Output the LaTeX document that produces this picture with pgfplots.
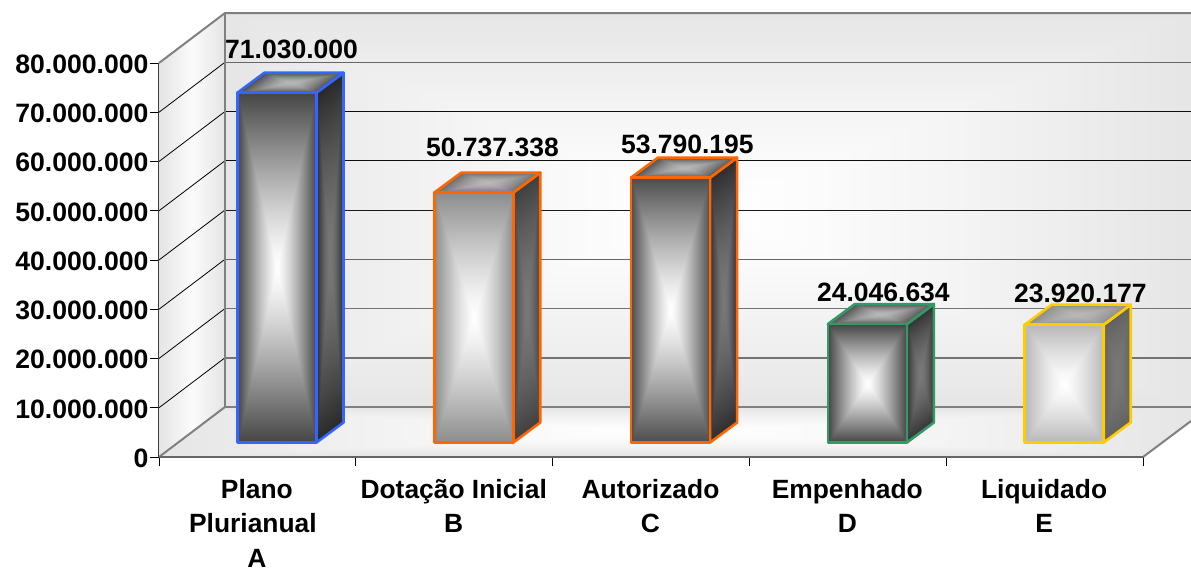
\documentclass[border=0pt]{standalone}
\usepackage{fontspec}
\setmainfont{Liberation Sans}
\usepackage{pgfplots}
\pgfplotsset{compat=1.18}
% rectangular "from centre" gradients: #2 edge grey, #3 centre grey (path bbox maps to +-25bp)
\newcommand\frontsh[3]{\pgfdeclarefunctionalshading{#1}{\pgfpoint{-50bp}{-50bp}}{\pgfpoint{50bp}{50bp}}{}{abs 25 div exch abs 25 div 2 copy gt {pop}{exch pop} ifelse dup 1 gt {pop 1} if 1.25 exp #2 #3 sub mul #3 add dup dup}}
% side face: #2 edge, #3 centre, #4 shear, #5 half-height
\newcommand\sidesh[5]{\pgfdeclarefunctionalshading{#1}{\pgfpoint{-50bp}{-50bp}}{\pgfpoint{50bp}{50bp}}{}{exch dup abs 25 div 3 1 roll #4 mul sub abs #5 div 2 copy gt {pop}{exch pop} ifelse dup 1 gt {pop 1} if 1.6 exp #2 #3 sub mul #3 add dup dup}}
% top face
\newcommand\topsh[3]{\pgfdeclarefunctionalshading{#1}{\pgfpoint{-50bp}{-50bp}}{\pgfpoint{50bp}{50bp}}{}{dup abs 25 div 3 1 roll 0.2547 mul sub abs 18.63 div 2 copy gt {pop}{exch pop} ifelse dup 1 gt {pop 1} if 1.6 exp #2 #3 sub mul #3 add dup dup}}
% left wall
\pgfdeclarefunctionalshading{lwall}{\pgfpoint{-50bp}{-50bp}}{\pgfpoint{50bp}{50bp}}{}{pop abs 25 div dup 1 gt {pop 1} if -0.09 mul 0.985 add dup dup}
\frontsh{fA}{0.27}{1}\frontsh{fB}{0.55}{1}\frontsh{fC}{0.30}{1}\frontsh{fD}{0.27}{1}\frontsh{fE}{0.72}{1}
\sidesh{sA}{0.16}{0.47}{0.054}{23.65}\sidesh{sB}{0.25}{0.47}{0.074}{23.15}\sidesh{sC}{0.18}{0.47}{0.070}{23.25}\sidesh{sD}{0.20}{0.47}{0.1445}{21.4}\sidesh{sE}{0.38}{0.47}{0.1445}{21.4}
\topsh{tA}{0.30}{0.72}\topsh{tB}{0.42}{0.72}\topsh{tC}{0.32}{0.72}\topsh{tD}{0.32}{0.72}\topsh{tE}{0.55}{0.72}
\frontsh{wall}{0.90}{1}
\definecolor{cA}{HTML}{3366FF}\definecolor{cB}{HTML}{FF6600}\definecolor{cD}{HTML}{339966}\definecolor{cE}{HTML}{FFCC00}
\begin{document}
\begin{tikzpicture}
\path[use as bounding box] (-159pt,-111pt) rectangle (1032pt,457pt);
\begin{axis}[
  at={(0pt,0pt)}, anchor=south west,
  scale only axis, width=984pt, height=394pt,
  xmin=0, xmax=5, ymin=0, ymax=80000000,
  clip=false, no marks,
  axis x line*=bottom, axis y line*=left,
  axis line style={black!85, line width=1pt},
  tick align=outside, major tick length=9pt, minor tick length=9pt,
  tick style={black, line width=0.8pt},
  major x tick style={draw=none},
  xtick={0.5,1.5,2.5,3.5,4.5}, minor xtick={0,1,2,3,4,5},
  xticklabels={{Plano\\Plurianual\hspace*{8pt}\null\\A},{Dotação Inicial\\B},{Autorizado\\C},{Empenhado\\D},{Liquidado\\E}},
  xticklabel style={align=center, font=\fontsize{26.4}{34.5}\selectfont\bfseries, yshift=-9.5pt, xshift=-0.5pt},
  ytick={0,10000000,20000000,30000000,40000000,50000000,60000000,70000000,80000000},
  yticklabels={0,10.000.000,20.000.000,30.000.000,40.000.000,50.000.000,60.000.000,70.000.000,80.000.000},
  yticklabel style={font=\fontsize{26.6}{30}\selectfont\bfseries, xshift=2pt, yshift=-1.2pt},
  scaled ticks=false,
]
% walls and floor
\addplot[draw=none, shading=wall, forget plot] coordinates {(0.3354,10152000)(5.2439,10152000)(5.2439,90152000)(0.3354,90152000)} --cycle;
\addplot[draw=none, shading=lwall, forget plot] coordinates {(0,0)(0.3354,10152000)(0.3354,90152000)(0,80000000)} --cycle;
\addplot[draw=none, shading=wall, forget plot] coordinates {(0,0)(5,0)(5.2439,7310000)(5.2439,10152000)(0.3354,10152000)} --cycle;
% back-wall grid
\addplot[black!55, line width=1.6pt, forget plot] coordinates {(0.3354,20152000)(5.2439,20152000)};
\addplot[black!55, line width=1.6pt, forget plot] coordinates {(0.3354,30152000)(5.2439,30152000)};
\addplot[black!60, line width=1.2pt, forget plot] coordinates {(0.3354,40152000)(5.2439,40152000)};
\addplot[black!90, line width=1pt, forget plot] coordinates {(0.3354,50152000)(5.2439,50152000)};
\addplot[black!95, line width=1pt, forget plot] coordinates {(0.3354,60152000)(5.2439,60152000)};
\addplot[black!95, line width=1pt, forget plot] coordinates {(0.3354,70152000)(5.2439,70152000)};
\addplot[black!60, line width=1.2pt, forget plot] coordinates {(0.3354,80152000)(5.2439,80152000)};
% left-wall grid
\addplot[black, line width=0.8pt, forget plot] coordinates {(0,10000000)(0.3354,20152000)};
\addplot[black, line width=0.8pt, forget plot] coordinates {(0,20000000)(0.3354,30152000)};
\addplot[black, line width=0.8pt, forget plot] coordinates {(0,30000000)(0.3354,40152000)};
\addplot[black, line width=0.8pt, forget plot] coordinates {(0,40000000)(0.3354,50152000)};
\addplot[black, line width=0.8pt, forget plot] coordinates {(0,50000000)(0.3354,60152000)};
\addplot[black, line width=0.8pt, forget plot] coordinates {(0,60000000)(0.3354,70152000)};
\addplot[black, line width=0.8pt, forget plot] coordinates {(0,70000000)(0.3354,80152000)};
% wall outlines
\addplot[black!50, line width=2pt, forget plot] coordinates {(0,80000000)(0.3354,90152000)(5.2439,90152000)};
\addplot[black!50, line width=2pt, forget plot] coordinates {(0.3354,90152000)(0.3354,10152000)(5.2439,10152000)};
\addplot[black!50, line width=2pt, forget plot] coordinates {(0,0)(0.3354,10152000)};
\addplot[black!50, line width=2pt, forget plot] coordinates {(5,0)(5.2439,7310000)};
\addplot[black!60, line width=1.4pt, forget plot] coordinates {(0,0)(5,0)};
% bars
\pgfplotsset{
  barf/.style={ybar, bar width=79pt, bar shift=0pt, shift={(19.6pt,14.5pt)}, line width=2.6pt, line join=round, forget plot},
  barp/.style={shift={(19.6pt,14.5pt)}, line width=2.6pt, line join=round, forget plot},
}
\addplot[barp, draw=cA, shading=sA] coordinates {(0.7007,0)(0.8379,4061000)(0.8379,75091000)(0.7007,71030000)} --cycle;
\addplot[barp, draw=cA, shading=tA] coordinates {(0.2993,71030000)(0.7007,71030000)(0.8379,75091000)(0.4365,75091000)} --cycle;
\addplot[barf, draw=cA, shading=fA] coordinates {(0.5,71030000)};
\addplot[barp, draw=cB, shading=sB] coordinates {(1.7007,0)(1.8379,4061000)(1.8379,54798338)(1.7007,50737338)} --cycle;
\addplot[barp, draw=cB, shading=tB] coordinates {(1.2993,50737338)(1.7007,50737338)(1.8379,54798338)(1.4365,54798338)} --cycle;
\addplot[barf, draw=cB, shading=fB] coordinates {(1.5,50737338)};
\addplot[barp, draw=cB, shading=sC] coordinates {(2.7007,0)(2.8379,4061000)(2.8379,57851195)(2.7007,53790195)} --cycle;
\addplot[barp, draw=cB, shading=tC] coordinates {(2.2993,53790195)(2.7007,53790195)(2.8379,57851195)(2.4365,57851195)} --cycle;
\addplot[barf, draw=cB, shading=fC] coordinates {(2.5,53790195)};
\addplot[barp, draw=cD, shading=sD] coordinates {(3.7007,0)(3.8379,4061000)(3.8379,28107634)(3.7007,24046634)} --cycle;
\addplot[barp, draw=cD, shading=tD] coordinates {(3.2993,24046634)(3.7007,24046634)(3.8379,28107634)(3.4365,28107634)} --cycle;
\addplot[barf, draw=cD, shading=fD] coordinates {(3.5,24046634)};
\addplot[barp, draw=cE, shading=sE] coordinates {(4.7007,0)(4.8379,4061000)(4.8379,27981177)(4.7007,23920177)} --cycle;
\addplot[barp, draw=cE, shading=tE] coordinates {(4.2993,23920177)(4.7007,23920177)(4.8379,27981177)(4.4365,27981177)} --cycle;
\addplot[barf, draw=cE, shading=fE] coordinates {(4.5,23920177)};
% value labels
\tikzset{vl/.style={font=\fontsize{26.5}{30}\selectfont\bfseries, inner sep=0pt}}
\node[vl] at (axis cs:0.6735,82700000) {71.030.000};
\node[vl] at (axis cs:1.6945,62800000) {50.737.338};
\node[vl] at (axis cs:2.6850,63500000) {53.790.195};
\node[vl] at (axis cs:3.6810,33500000) {24.046.634};
\node[vl] at (axis cs:4.6820,33300000) {23.920.177};
\end{axis}
\end{tikzpicture}
\end{document}
